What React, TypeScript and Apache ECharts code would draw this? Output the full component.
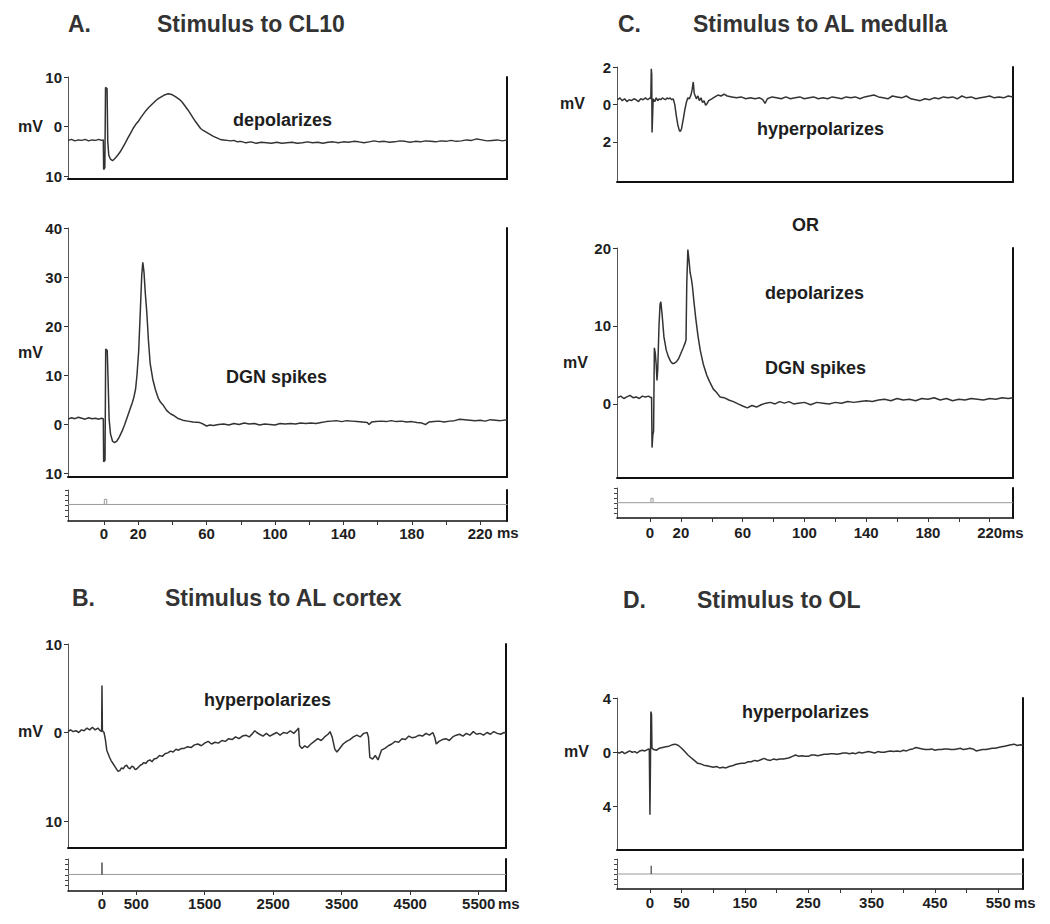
import React, { useEffect, useRef } from "react";
import * as echarts from "echarts";

type P = [number, number];

// ---------- Panel A (stimulus to CL10) ----------
const traceA1: P[] = [[-21,-2.8],[-19,-2.6],[-17,-2.9],[-15,-2.7],[-13,-2.8],[-11,-2.6],[-9,-2.9],[-7,-2.7],[-5,-2.8],[-3,-2.6],[-1.5,-2.8],[-0.4,-2.7],[-0.2,-8.7],[0.5,-8.3],[0.9,7.9],[1.8,7.6],[2.2,-3.0],[2.8,-5.8],[3.8,-6.6],[5,-6.9],[6.5,-6.4],[8,-5.8],[9.5,-5.1],[11,-4.2],[12.5,-3.3],[14,-2.3],[15.5,-1.4],[17,-0.4],[18.5,0.4],[20,1.0],[21.5,1.8],[23,2.5],[24.5,3.2],[26,3.8],[27.5,4.3],[29,4.8],[30.5,5.3],[32,5.7],[33.5,6.0],[35,6.3],[36.5,6.5],[37.6,6.6],[39,6.5],[40,6.4],[42,6.0],[44.4,5.4],[46,4.8],[47.5,4.1],[49,3.4],[50.5,2.6],[52,1.8],[53.5,1.0],[55,0.3],[56.5,-0.4],[58,-0.8],[60,-1.2],[62,-1.6],[64,-2.0],[66,-2.3],[68,-2.6],[70,-2.7],[72,-2.8],[74,-2.9],[76,-2.8],[78,-3.1],[80,-3.0],[83,-3.3],[86,-3.1],[89,-3.4],[92,-3.2],[95,-3.3],[98,-3.4],[101,-3.2],[104,-3.4],[107,-3.3],[110,-3.2],[113,-3.4],[116,-3.3],[119,-3.1],[122,-3.3],[125,-3.2],[128,-3.4],[131,-3.2],[134,-3.1],[137,-3.3],[140,-3.1],[143,-3.2],[146,-3.0],[149,-3.1],[152,-3.3],[155,-3.1],[158,-2.9],[161,-3.1],[164,-3.0],[167,-3.2],[170,-3.1],[173,-2.9],[176,-3.0],[179,-3.2],[182,-3.0],[185,-3.1],[188,-2.9],[191,-3.0],[194,-3.1],[197,-2.9],[200,-3.0],[203,-2.8],[206,-3.0],[209,-2.9],[212,-2.7],[215,-2.8],[218,-2.5],[221,-2.7],[224,-2.9],[227,-2.8],[230,-2.7],[233,-2.9],[236,-2.7]];

const traceA2: P[] = [[-21,1.0],[-19,1.3],[-17,1.1],[-15,1.4],[-13,1.2],[-11,1.0],[-9,1.3],[-7,1.1],[-5,1.2],[-3,1.0],[-1.5,1.2],[-0.4,1.1],[-0.2,-7.7],[0.6,-7.4],[1.0,15.3],[1.9,15.0],[2.4,9.0],[3.0,1.0],[3.8,-2.0],[5,-3.5],[6.2,-3.8],[7.5,-3.5],[9,-2.6],[10.5,-1.5],[12,-0.2],[13.5,1.3],[15,2.8],[16.5,4.3],[17.5,5.5],[18.5,7.2],[19.3,10.0],[20.3,15.0],[21.3,23.5],[22.1,30.5],[22.7,33.0],[23.4,31.0],[24.2,26.5],[25,23.0],[26,17.0],[27,12.4],[28.5,9.2],[30,7.1],[31.7,5.3],[33,4.5],[34.5,3.9],[36.6,2.8],[38.5,2.2],[40.5,1.8],[43,1.2],[46,0.8],[49,0.6],[52,0.4],[56,0.3],[58,0.0],[60,-0.4],[62,-0.2],[64,-0.3],[67,-0.1],[70,0.0],[73,-0.2],[76,0.1],[79,-0.1],[82,0.2],[85,0.0],[88,0.1],[91,-0.2],[94,0.0],[97,-0.1],[100,-0.2],[103,0.1],[106,0.0],[109,0.1],[112,0.0],[115,0.2],[118,0.1],[121,0.2],[124,0.1],[127,0.3],[130,0.5],[133,0.6],[136,0.7],[139,0.5],[142,0.7],[145,0.6],[148,0.5],[151,0.4],[154,0.3],[155,-0.1],[156.5,0.4],[159,0.5],[162,0.6],[165,0.5],[168,0.7],[171,0.5],[174,0.6],[177,0.4],[180,0.5],[183,0.3],[186,0.2],[188,-0.1],[190,0.4],[193,0.5],[196,0.6],[199,0.4],[202,0.6],[205,0.7],[208,1.0],[211,0.9],[214,0.8],[217,0.7],[220,0.8],[223,0.6],[226,0.9],[229,0.8],[232,0.7],[236,0.9]];

const stimLineA: P[] = [[-21,3.2],[236,3.2]];
const stimPulseA: P[] = [[0.2,3.2],[0.2,4.2],[1.6,4.2],[1.6,3.2]];

// ---------- Panel C (stimulus to AL medulla) ----------
const traceC1: P[] = [[-21,0.25],[-19.5,0.35],[-18,0.2],[-16.5,0.3],[-15,0.15],[-13.5,0.25],[-12,0.2],[-10.5,0.3],[-9,0.25],[-7.5,0.15],[-6,0.3],[-4.5,0.25],[-3,0.35],[-1.5,0.25],[0,0.35],[0.5,0.3],[0.8,1.9],[1.1,1.6],[1.3,-1.5],[1.6,-0.8],[2,0.3],[3,0.15],[4,0.35],[5,0.2],[6,0.3],[7,0.25],[8,0.35],[9,0.3],[10,0.25],[11,0.35],[12,0.3],[13,0.35],[14,0.25],[15,0.3],[16,0.0],[17,-0.6],[18,-1.1],[19,-1.4],[19.6,-1.45],[20.4,-1.3],[21.5,-0.8],[22.5,-0.3],[23.5,0.1],[24.5,0.35],[25.5,0.3],[26.5,0.5],[27.3,0.8],[28,1.2],[28.6,0.6],[29.3,0.45],[30,0.3],[31,0.45],[32,0.2],[33,0.35],[34,0.1],[35,0.2],[36,-0.05],[37,0.05],[38,0.2],[40,0.3],[42,0.4],[44,0.5],[46,0.45],[48,0.55],[50,0.45],[53,0.4],[56,0.35],[59,0.4],[62,0.3],[65,0.35],[68,0.3],[71,0.35],[73,0.25],[74.5,0.05],[76,0.3],[79,0.4],[82,0.35],[85,0.3],[88,0.4],[91,0.3],[94,0.35],[97,0.4],[100,0.3],[103,0.35],[106,0.4],[109,0.3],[112,0.35],[115,0.3],[118,0.4],[121,0.35],[124,0.3],[127,0.4],[130,0.35],[133,0.4],[136,0.3],[139,0.4],[142,0.45],[145,0.5],[148,0.4],[151,0.35],[154,0.3],[157,0.45],[160,0.4],[163,0.35],[166,0.45],[169,0.3],[172,0.25],[175,0.2],[178,0.3],[181,0.25],[184,0.35],[187,0.3],[190,0.4],[193,0.35],[196,0.4],[199,0.3],[202,0.45],[205,0.35],[208,0.4],[211,0.3],[214,0.35],[217,0.4],[220,0.45],[223,0.35],[226,0.4],[229,0.35],[232,0.45],[235,0.4]];

const traceC2: P[] = [[-21,0.8],[-19,1.0],[-17,0.7],[-15,0.9],[-13,1.1],[-11,0.8],[-9,0.9],[-7,0.7],[-5,1.0],[-3,0.9],[-1,1.0],[0.5,0.8],[1.0,0.9],[1.3,-5.6],[1.8,-4.0],[2.3,-3.5],[2.8,7.2],[3.4,6.5],[4.0,5.0],[4.5,3.0],[5.0,4.5],[5.8,10.0],[6.5,12.8],[7.0,13.1],[7.8,11.5],[9.0,8.6],[10.5,6.9],[12,6.0],[13.5,5.4],[14.5,5.2],[15.5,5.2],[17,5.4],[18.5,5.8],[20,6.5],[21.5,7.2],[22.7,7.8],[23.3,8.2],[23.8,15.5],[24.5,19.8],[25.2,18.5],[26,16.8],[26.8,16.0],[27.5,15.0],[28.5,13.0],[29.6,11.0],[31,8.8],[32.5,6.9],[34.5,5.1],[36.7,3.7],[38.5,2.9],[41,1.9],[43,1.5],[45.3,0.9],[48,0.8],[51,0.5],[54,0.3],[57,0.0],[60.4,-0.3],[63,-0.5],[66,-0.2],[69,-0.4],[72,-0.1],[75,0.1],[78,0.2],[81,0.0],[84,0.3],[87,0.1],[90,0.3],[93,0.0],[96,0.1],[100,0.2],[104,-0.1],[108,0.2],[112,0.1],[116,0.0],[120,0.2],[124,0.1],[128,0.3],[132,0.2],[136,0.3],[140,0.4],[144,0.3],[148,0.5],[152,0.6],[156,0.4],[160,0.7],[164,0.5],[168,0.6],[172,0.4],[176,0.7],[180,0.6],[184,0.8],[188,0.5],[192,0.7],[196,0.4],[200,0.6],[204,0.5],[208,0.7],[212,0.6],[216,0.5],[220,0.7],[224,0.6],[228,0.8],[232,0.7],[235,0.8]];

const stimLineC: P[] = [[-21.4,3.06],[235,3.06]];
const stimPulseC: P[] = [[0.6,3.06],[0.6,3.94],[2.0,3.94],[2.0,3.06]];

// ---------- Panel B (stimulus to AL cortex) ----------
const traceB: P[] = [[-496,0.1],[-460,0.3],[-420,0.1],[-380,0.2],[-340,0.0],[-300,0.3],[-260,0.2],[-220,0.5],[-180,0.3],[-140,0.6],[-100,0.3],[-60,0.5],[-25,0.2],[-5,0.1],[0,5.3],[6,0.2],[30,0.0],[50,-0.8],[70,-2.0],[90,-2.4],[110,-2.8],[135,-3.2],[160,-3.5],[185,-3.8],[210,-4.1],[235,-4.4],[260,-4.3],[285,-4.0],[310,-4.1],[335,-3.8],[360,-3.7],[385,-4.0],[410,-4.1],[435,-3.8],[460,-3.9],[485,-4.2],[510,-4.1],[535,-3.9],[560,-3.7],[585,-3.6],[610,-3.4],[640,-3.5],[670,-3.2],[700,-3.1],[730,-3.3],[760,-3.0],[800,-2.9],[840,-2.6],[880,-2.7],[920,-2.4],[960,-2.3],[1000,-2.1],[1040,-2.2],[1080,-1.9],[1120,-2.0],[1160,-1.8],[1200,-1.8],[1250,-1.6],[1300,-1.7],[1350,-1.4],[1400,-1.3],[1450,-1.5],[1500,-1.2],[1550,-1.0],[1600,-1.3],[1650,-1.1],[1700,-1.2],[1750,-0.9],[1800,-1.0],[1850,-0.7],[1900,-0.8],[1950,-0.5],[2000,-0.7],[2050,-0.4],[2100,-0.3],[2150,-0.5],[2200,-0.1],[2230,0.2],[2260,0.0],[2300,-0.2],[2350,-0.4],[2400,-0.1],[2450,-0.4],[2500,-0.2],[2550,0.0],[2600,-0.3],[2650,0.0],[2700,-0.1],[2750,0.2],[2800,-0.1],[2850,0.3],[2870,0.5],[2885,-1.5],[2920,-1.8],[2960,-1.5],[3000,-1.7],[3050,-1.3],[3100,-1.0],[3150,-0.7],[3200,-0.9],[3250,-0.5],[3300,-0.2],[3330,0.1],[3360,-0.5],[3400,-1.9],[3430,-2.2],[3470,-1.8],[3520,-1.3],[3570,-1.0],[3620,-0.8],[3670,-0.5],[3720,-0.3],[3770,-0.5],[3820,-0.1],[3870,0.0],[3890,-0.5],[3910,-2.8],[3950,-3.0],[3990,-2.6],[4030,-3.1],[4080,-2.0],[4130,-1.8],[4180,-1.5],[4230,-1.3],[4280,-1.0],[4330,-1.1],[4380,-0.7],[4430,-0.8],[4480,-0.4],[4530,-0.6],[4580,-0.5],[4630,-0.3],[4680,-0.4],[4730,-0.1],[4780,-0.3],[4830,0.0],[4860,-0.6],[4880,-1.3],[4920,-1.0],[4970,-0.8],[5020,-0.7],[5070,-0.9],[5120,-0.5],[5170,-0.3],[5220,-0.2],[5270,-0.4],[5320,-0.1],[5370,-0.3],[5420,0.1],[5470,-0.2],[5520,-0.1],[5570,-0.3],[5620,0.0],[5670,-0.2],[5720,0.1],[5770,-0.1],[5820,-0.2],[5870,0.0],[5898,-0.1]];

const stimLineB: P[] = [[-496,3.1],[5898,3.1]];
const stimPulseB: P[] = [[0,3.1],[0,5.35]];

// ---------- Panel D (stimulus to OL) ----------
const traceD: P[] = [[-52,0.0],[-48,-0.05],[-44,0.05],[-40,-0.1],[-36,0.0],[-32,0.1],[-28,0.0],[-24,0.05],[-20,-0.05],[-16,0.1],[-12,0.15],[-8,0.1],[-4,0.2],[-1,0.25],[0,-4.6],[0.8,-1.0],[1.5,3.0],[2.5,2.8],[3.2,0.3],[6,0.2],[10,0.15],[15,0.3],[20,0.35],[25,0.4],[30,0.45],[35,0.55],[40,0.6],[45,0.5],[50,0.3],[55,0.05],[60,-0.2],[65,-0.4],[70,-0.6],[75,-0.8],[80,-0.85],[85,-0.95],[90,-1.0],[95,-1.05],[100,-1.1],[105,-1.05],[110,-1.15],[115,-1.1],[120,-1.15],[125,-1.05],[130,-1.0],[135,-0.9],[140,-0.85],[145,-0.8],[150,-0.8],[155,-0.7],[160,-0.7],[165,-0.6],[170,-0.65],[175,-0.55],[180,-0.45],[185,-0.55],[190,-0.6],[195,-0.5],[200,-0.55],[205,-0.5],[210,-0.5],[215,-0.45],[220,-0.4],[225,-0.3],[230,-0.2],[235,-0.3],[240,-0.25],[245,-0.3],[250,-0.3],[255,-0.2],[260,-0.2],[265,-0.25],[270,-0.2],[275,-0.15],[280,-0.15],[285,-0.1],[290,-0.1],[295,-0.15],[300,-0.1],[305,-0.05],[310,-0.05],[315,-0.1],[320,-0.05],[325,-0.1],[330,0.0],[335,-0.05],[340,0.0],[345,0.05],[350,0.0],[355,-0.05],[360,0.05],[365,0.0],[370,0.0],[375,0.05],[380,0.1],[385,0.05],[390,0.1],[395,0.05],[400,0.15],[405,0.1],[410,0.2],[415,0.25],[420,0.35],[425,0.3],[430,0.25],[435,0.2],[440,0.2],[445,0.25],[450,0.15],[455,0.2],[460,0.2],[465,0.25],[470,0.25],[475,0.2],[480,0.2],[485,0.25],[490,0.3],[495,0.2],[500,0.25],[505,0.3],[510,0.25],[515,0.1],[520,0.15],[525,0.2],[530,0.2],[535,0.25],[540,0.3],[545,0.3],[550,0.35],[555,0.4],[560,0.45],[565,0.5],[570,0.55],[575,0.6],[580,0.5],[585,0.55],[589,0.5]];

const stimLineD: P[] = [[-52,3.0],[589,3.0]];
const stimPulseD: P[] = [[2,3.0],[2,4.66]];

// ---------- tick labels ----------
const xLabelsAC = [0, 20, 60, 100, 140, 180, 220];
const xTicksAC = [0, 20, 40, 60, 80, 100, 120, 140, 160, 180, 200, 220];
const xLabelsB = [0, 500, 1500, 2500, 3500, 4500, 5500];
const xTicksB = [0, 500, 1500, 2500, 3500, 4500, 5500];
const xLabelsD = [0, 50, 150, 250, 350, 450, 550];
const xTicksD = [0, 50, 100, 150, 200, 250, 300, 350, 400, 450, 500, 550];
const yLabelsA1 = [-10, 0, 10];
const yLabelsA2 = [-10, 0, 10, 20, 30, 40];
const yLabelsC1 = [-2, 0, 2];
const yLabelsC2 = [0, 10, 20];
const yLabelsB = [-10, 0, 10];
const yLabelsD = [-4, 0, 4];
const stimTicks = [1, 2, 3, 4, 5, 6];

const FONT = "'Liberation Sans', Arial, Helvetica, sans-serif";
const TXT = "#1e1e1e";
const TRACE = "#333333";

type Panel = {
  left: number; top: number; width: number; height: number;
  xmin: number; xmax: number; ymin: number; ymax: number;
  stim: boolean; yLabels?: number[]; xTicks?: number[]; xLabels?: number[]; labelMargin?: number;
};

const panels: Panel[] = [
  { left: 68, top: 77, width: 439, height: 102, xmin: -21.05, xmax: 235.7, ymin: -10.6, ymax: 10, stim: false, yLabels: yLabelsA1 },
  { left: 68, top: 228, width: 439, height: 249, xmin: -21.05, xmax: 235.7, ymin: -10.8, ymax: 40, stim: false, yLabels: yLabelsA2 },
  { left: 68, top: 490, width: 439, height: 31, xmin: -21.05, xmax: 235.7, ymin: 0, ymax: 6, stim: true, xTicks: xTicksAC, xLabels: xLabelsAC, labelMargin: 5 },
  { left: 617, top: 67, width: 396, height: 115, xmin: -21.4, xmax: 235.1, ymin: -4.15, ymax: 2, stim: false, yLabels: yLabelsC1 },
  { left: 617, top: 248, width: 396, height: 230, xmin: -21.4, xmax: 235.1, ymin: -9.5, ymax: 20, stim: false, yLabels: yLabelsC2 },
  { left: 617, top: 488, width: 396, height: 30, xmin: -21.4, xmax: 235.1, ymin: 0, ymax: 6, stim: true, xTicks: xTicksAC, xLabels: xLabelsAC, labelMargin: 7 },
  { left: 68, top: 644, width: 438, height: 204, xmin: -496, xmax: 5898, ymin: -13.05, ymax: 10, stim: false, yLabels: yLabelsB },
  { left: 68, top: 859, width: 438, height: 32, xmin: -496, xmax: 5898, ymin: 0, ymax: 6, stim: true, xTicks: xTicksB, xLabels: xLabelsB, labelMargin: 5 },
  { left: 617, top: 698, width: 406, height: 152, xmin: -52, xmax: 589, ymin: -7.2, ymax: 4, stim: false, yLabels: yLabelsD },
  { left: 617, top: 859, width: 406, height: 30, xmin: -52, xmax: 589, ymin: 0, ymax: 6, stim: true, xTicks: xTicksD, xLabels: xLabelsD, labelMargin: 6 },
];

const labelStyle = { fontSize: 15, fontWeight: "bold" as const, color: TXT, fontFamily: FONT };

function buildOption() {
  const grid = panels.map((p) => ({ left: p.left, top: p.top, width: p.width, height: p.height, containLabel: false }));
  const xAxis = panels.map((p, i) => ({
    type: "value", gridIndex: i, min: p.xmin, max: p.xmax,
    axisLine: { show: true, onZero: false, lineStyle: { color: "#111", width: p.stim ? 1.6 : 2 } },
    axisTick: p.stim ? { show: true, customValues: p.xTicks, length: 4, lineStyle: { color: "#333", width: 1 } } : { show: false },
    axisLabel: p.stim
      ? { show: true, customValues: p.xLabels, margin: p.labelMargin, formatter: (v: number) => String(v), ...labelStyle }
      : { show: false },
    splitLine: { show: false },
  }));
  const yAxis: any[] = [];
  panels.forEach((p, i) => {
    yAxis.push({
      type: "value", gridIndex: i, min: p.ymin, max: p.ymax, position: "left",
      axisLine: { show: true, onZero: false, lineStyle: { color: "#555", width: 1 } },
      axisTick: p.stim
        ? { show: true, length: 3, customValues: stimTicks, lineStyle: { color: "#444" } }
        : { show: true, length: 4, customValues: p.yLabels, lineStyle: { color: "#333" } },
      axisLabel: p.stim
        ? { show: false }
        : { show: true, customValues: p.yLabels, margin: 6, formatter: (v: number) => String(Math.abs(v)), ...labelStyle },
      splitLine: { show: false },
    });
    yAxis.push({
      type: "value", gridIndex: i, min: p.ymin, max: p.ymax, position: "right",
      axisLine: { show: true, onZero: false, lineStyle: { color: "#111", width: 2 } },
      axisTick: { show: false }, axisLabel: { show: false }, splitLine: { show: false },
    });
  });

  const line = (i: number, data: P[], color: string, width: number) => ({
    type: "line", xAxisIndex: i, yAxisIndex: 2 * i, data, symbol: "none", showSymbol: false,
    lineStyle: { color, width }, silent: true, clip: true,
  });

  const series = [
    line(0, traceA1, TRACE, 1.5),
    line(1, traceA2, TRACE, 1.5),
    line(2, stimLineA, "#999", 1),
    line(2, stimPulseA, "#999", 1),
    line(3, traceC1, TRACE, 1.5),
    line(4, traceC2, TRACE, 1.5),
    line(5, stimLineC, "#999", 1),
    line(5, stimPulseC, "#999", 1),
    line(6, traceB, TRACE, 1.5),
    line(7, stimLineB, "#999", 1),
    line(7, stimPulseB, "#222", 1.2),
    line(8, traceD, TRACE, 1.5),
    line(9, stimLineD, "#999", 1),
    line(9, stimPulseD, "#444", 1.2),
  ];

  const t = (x: number, y: number, text: string, size: number, color = TXT) => ({
    type: "text", left: x, top: y - size / 2 - 1, silent: true,
    style: { text, fontSize: size, fontWeight: "bold", fill: color, fontFamily: FONT },
  });

  const graphic = [
    t(68, 25, "A.", 23, "#333"),
    t(157, 25, "Stimulus to CL10", 23, "#333"),
    t(618, 25, "C.", 23, "#333"),
    t(693, 25, "Stimulus to AL medulla", 23, "#333"),
    t(72, 599, "B.", 23, "#333"),
    t(165, 599, "Stimulus to AL cortex", 23, "#333"),
    t(623, 601, "D.", 23, "#333"),
    t(697, 601, "Stimulus to OL", 23, "#333"),
    t(233, 121, "depolarizes", 18),
    t(226, 378, "DGN spikes", 18),
    t(757, 130, "hyperpolarizes", 18),
    t(792, 226, "OR", 18),
    t(765, 294, "depolarizes", 18),
    t(765, 369, "DGN spikes", 18),
    t(204, 701, "hyperpolarizes", 18),
    t(742, 713, "hyperpolarizes", 18),
    t(18, 127, "mV", 16),
    t(18, 353, "mV", 16),
    t(560, 104, "mV", 16),
    t(563, 363, "mV", 16),
    t(18, 732, "mV", 16),
    t(564, 752, "mV", 16),
    t(497, 533, "ms", 15),
    t(1002, 533, "ms", 15),
    t(498, 904, "ms", 15),
    t(1014, 903, "ms", 15),
  ];

  return { animation: false, backgroundColor: "#fff", grid, xAxis, yAxis, series, graphic };
}

export default function App() {
  const ref = useRef<HTMLDivElement | null>(null);
  useEffect(() => {
    if (!ref.current) return;
    const chart = echarts.init(ref.current, undefined, { renderer: "svg" });
    chart.setOption(buildOption() as any);
    return () => chart.dispose();
  }, []);
  return (
    <div
      ref={ref}
      style={{ position: "fixed", left: 0, top: 0, width: 1050, height: 924, background: "#fff" }}
    />
  );
}
